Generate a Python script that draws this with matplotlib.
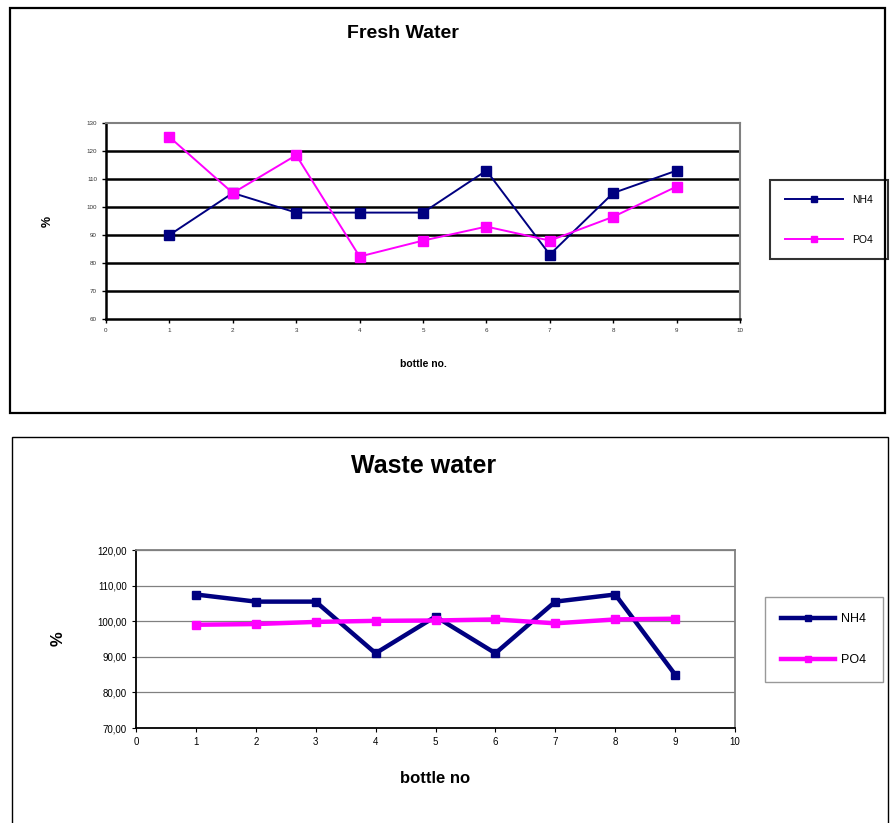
"""Fresh water and waste water recovery per bottle
"""
import matplotlib
matplotlib.use("Agg")
import matplotlib.pyplot as plt
from matplotlib.patches import Rectangle
from matplotlib.ticker import FuncFormatter

plt.rcParams["font.family"] = ["Liberation Sans", "DejaVu Sans"]

################################################################################
bottles = [1, 2, 3, 4, 5, 6, 7, 8, 9]
fresh_nh4 = [90, 105, 98, 98, 98, 113, 83, 105, 113]
fresh_po4 = [125, 105, 118.5, 82.3, 88, 93, 88, 96.5, 107.3]
waste_nh4 = [107.5, 105.5, 105.5, 91, 101.3, 91, 105.5, 107.5, 85]
waste_po4 = [99, 99.2, 99.8, 100.1, 100.2, 100.5, 99.4, 100.5, 100.7]
series_names = ["NH4", "PO4"]
navy = "#000080"
magenta = "#FF00FF"
################################################################################

W, H = 890, 823
fig = plt.figure(figsize=(W / 100, H / 100), dpi=100)


def fx(px):
  return px / W


def fy(py):
  return 1 - py / H


# outer frames of the two chart objects
fig.patches.append(Rectangle((fx(10), fy(413)), fx(885 - 10), fy(8) - fy(413),
                             transform=fig.transFigure, fill=False,
                             edgecolor="black", linewidth=1.6))
fig.patches.append(Rectangle((fx(12), fy(830)), fx(888 - 12), fy(437) - fy(830),
                             transform=fig.transFigure, fill=False,
                             edgecolor="black", linewidth=1.0))

# ---------------- Fresh Water ----------------
ax1 = fig.add_axes([fx(106), fy(319), fx(740 - 106), fy(123) - fy(319)])
ax1.plot(bottles, fresh_nh4, color=navy, linewidth=1.4, marker="s",
         markersize=7, label=series_names[0])
ax1.plot(bottles, fresh_po4, color=magenta, linewidth=1.4, marker="s",
         markersize=7, label=series_names[1])
ax1.set_xlim(0, 10)
ax1.set_ylim(60, 130)
ax1.set_xticks(range(0, 11))
ax1.set_yticks(range(60, 131, 10))
ax1.tick_params(labelsize=4.5, length=3, width=1, colors="black",
                labelcolor="#333333")
for y in range(70, 130, 10):
  ax1.axhline(y, color="black", linewidth=1.8, zorder=1)
for side in ["left", "bottom"]:
  ax1.spines[side].set_linewidth(1.8)
for side in ["top", "right"]:
  ax1.spines[side].set_color("#808080")
  ax1.spines[side].set_linewidth(1.5)
ax1.set_xlabel("bottle no.", fontsize=7.5, fontweight="bold", labelpad=19)
ax1.set_ylabel("%", fontsize=9, fontweight="bold")
ax1.yaxis.set_label_coords(-0.083, 0.5)
fig.text(fx(403), fy(34), "Fresh Water", fontsize=14, fontweight="bold",
         ha="center", va="center")
leg1 = ax1.legend(loc="upper left", bbox_to_anchor=(fx(770), fy(180)),
                  bbox_transform=fig.transFigure, fontsize=7.5,
                  handlelength=5.6, labelspacing=2.9, borderpad=1.4,
                  handletextpad=0.9, borderaxespad=0, fancybox=False,
                  markerscale=0.7)
leg1.get_frame().set_edgecolor("black")
leg1.get_frame().set_linewidth(1.5)

# ---------------- Waste water ----------------
ax2 = fig.add_axes([fx(136), fy(728), fx(735 - 136), fy(550) - fy(728)])
ax2.plot(bottles, waste_nh4, color=navy, linewidth=3.2, marker="s",
         markersize=5.5, label=series_names[0])
ax2.plot(bottles, waste_po4, color=magenta, linewidth=3.2, marker="s",
         markersize=5.5, label=series_names[1])
ax2.set_xlim(0, 10)
ax2.set_ylim(70, 120)
ax2.set_xticks(range(0, 11))
ax2.set_yticks(range(70, 121, 10))
ax2.yaxis.set_major_formatter(FuncFormatter(lambda v, p: f"{v:.2f}".replace(".", ",")))
ax2.tick_params(labelsize=7, length=3, width=0.8)
ax2.grid(axis="y", color="#808080", linewidth=0.9, zorder=0)
for side in ["left", "bottom"]:
  ax2.spines[side].set_linewidth(1.3)
for side in ["top", "right"]:
  ax2.spines[side].set_color("#808080")
  ax2.spines[side].set_linewidth(1.3)
ax2.set_xlabel("bottle no", fontsize=12, fontweight="bold", labelpad=17)
ax2.set_ylabel("%", fontsize=12, fontweight="bold")
ax2.yaxis.set_label_coords(-0.117, 0.5)
fig.text(fx(424), fy(466), "Waste water", fontsize=18, fontweight="bold",
         ha="center", va="center")
leg2 = ax2.legend(loc="upper left", bbox_to_anchor=(fx(765), fy(597)),
                  bbox_transform=fig.transFigure, fontsize=9,
                  handlelength=4.3, labelspacing=2.3, borderpad=1.3,
                  handletextpad=0.5, borderaxespad=0, fancybox=False,
                  markerscale=0.8)
leg2.get_frame().set_edgecolor("#808080")
leg2.get_frame().set_linewidth(1.0)

fig.savefig("out.png", dpi=100)
